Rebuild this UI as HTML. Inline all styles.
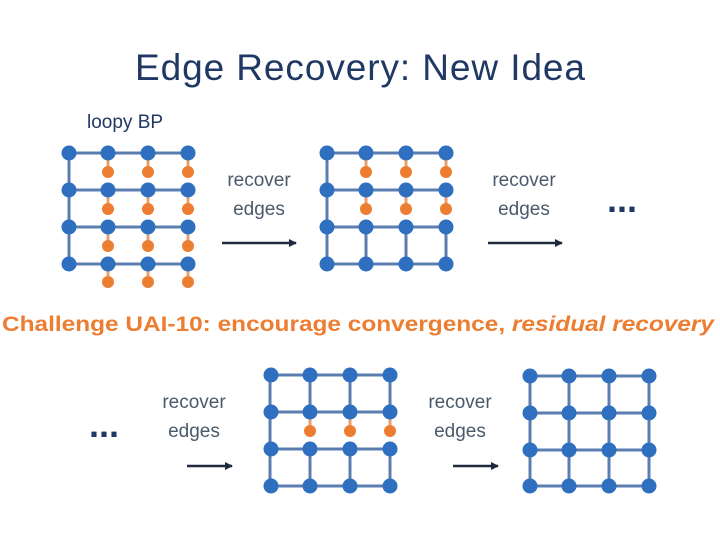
<!DOCTYPE html>
<html><head><meta charset="utf-8"><style>
body{margin:0;width:720px;height:540px;background:#fff;overflow:hidden;font-family:"Liberation Sans",sans-serif}
</style></head><body>
<svg width="720" height="540" viewBox="0 0 720 540" xmlns="http://www.w3.org/2000/svg">
<defs><marker id="a" markerWidth="8" markerHeight="8" refX="7" refY="4" orient="auto" markerUnits="userSpaceOnUse"><path d="M0,0 L8,4 L0,8 z" fill="#1f2a3c"/></marker>
<g id="r" fill="#2e6fbf"><circle cx="0" cy="0" r="7.5"/><circle cx="39" cy="0" r="7.5"/><circle cx="79" cy="0" r="7.5"/><circle cx="119" cy="0" r="7.5"/></g>
<g id="o" fill="#ed7d31"><circle cx="0" cy="0" r="6"/><circle cx="40" cy="0" r="6"/><circle cx="80" cy="0" r="6"/></g>
</defs>
<text x="135" y="80" textLength="450" font-size="37" fill="#1f3864">Edge Recovery: New Idea</text>
<text x="87" y="128" font-size="19" fill="#1f3864">loopy BP</text>
<g font-size="19" fill="#4a5a6a" text-anchor="middle">
<text x="259" y="186">recover</text><text x="259" y="215">edges</text>
<text x="524" y="186">recover</text><text x="524" y="215">edges</text>
<text x="194" y="408">recover</text><text x="194" y="437">edges</text>
<text x="460" y="408">recover</text><text x="460" y="437">edges</text>
</g>
<text x="622" y="212" text-anchor="middle" font-size="36" font-weight="bold" fill="#1f3864">...</text>
<text x="104" y="437" text-anchor="middle" font-size="36" font-weight="bold" fill="#1f3864">...</text>
<text x="2" y="331" textLength="712" lengthAdjust="spacingAndGlyphs" font-size="21" font-weight="bold" fill="#ed7d31">Challenge UAI-10: encourage convergence,   <tspan font-style="italic">residual recovery</tspan></text>
<g stroke="#1f2a3c" stroke-width="2.5" marker-end="url(#a)">
<line x1="222" y1="243" x2="296" y2="243"/><line x1="488" y1="243" x2="562" y2="243"/>
<line x1="187" y1="466" x2="232" y2="466"/><line x1="453" y1="466" x2="498" y2="466"/>
</g>
<g stroke="#5b7db0" stroke-width="3" fill="none">
<path d="M69,153H188M69,190H188M69,227H188M69,264H188M69,153V264"/>
<path stroke="#e8a070" d="M108,153v18M148,153v18M188,153v18M108,190v18M148,190v18M188,190v18M108,227v18M148,227v18M188,227v18M108,264v18M148,264v18M188,264v18"/>
<path d="M327,153H446M327,190H446M327,227H446M327,264H446M327,153V264M366,227v37M406,227v37M446,227v37"/>
<path stroke="#e8a070" d="M366,153v18M406,153v18M446,153v18M366,190v18M406,190v18M446,190v18"/>
<path d="M270,375H390M270,412H390M270,449H390M270,486H390M270,375V486M310,375v37M350,375v37M390,375v37M310,449v37M350,449v37M390,449v37"/>
<path stroke="#e8a070" d="M310,412v18M350,412v18M390,412v18"/>
<path d="M530,376H649M530,413H649M530,450H649M530,486H649M530,376V486M569,376V486M609,376V486M649,376V486"/>
</g>
<use href="#r" x="69" y="153"/><use href="#r" x="69" y="190"/><use href="#r" x="69" y="227"/><use href="#r" x="69" y="264"/>
<use href="#r" x="327" y="153"/><use href="#r" x="327" y="190"/><use href="#r" x="327" y="227"/><use href="#r" x="327" y="264"/>
<use href="#r" x="271" y="375"/><use href="#r" x="271" y="412"/><use href="#r" x="271" y="449"/><use href="#r" x="271" y="486"/>
<use href="#r" x="530" y="376"/><use href="#r" x="530" y="413"/><use href="#r" x="530" y="450"/><use href="#r" x="530" y="486"/>
<use href="#o" x="108" y="172"/><use href="#o" x="108" y="209"/><use href="#o" x="108" y="246"/><use href="#o" x="108" y="282"/>
<use href="#o" x="366" y="172"/><use href="#o" x="366" y="209"/>
<use href="#o" x="310" y="431"/>
</svg>
</body></html>
